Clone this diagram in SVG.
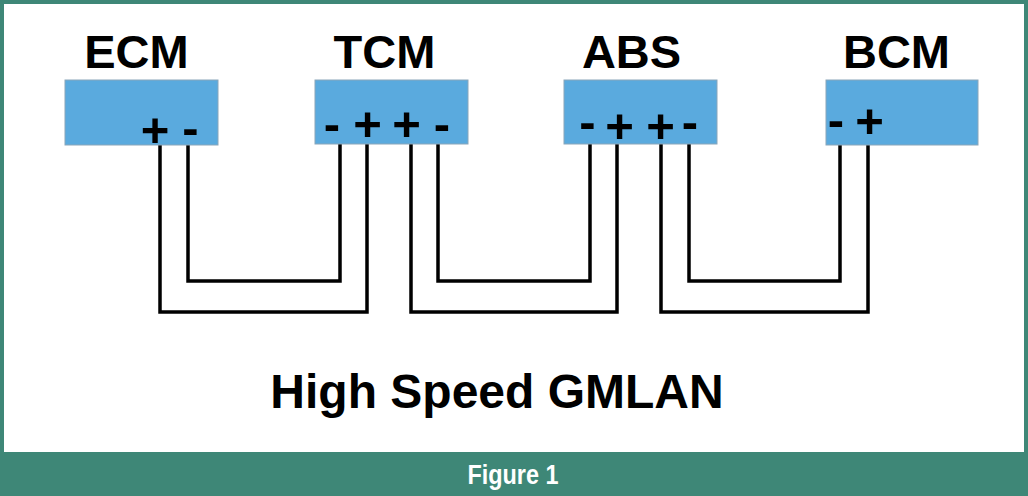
<svg xmlns="http://www.w3.org/2000/svg" width="1028" height="496" viewBox="0 0 1028 496">
<style>
.lbl{font-family:"Liberation Sans",Arial,sans-serif;font-weight:bold;font-size:47px;fill:#000;text-anchor:middle}
.sgn{font-family:"Liberation Sans",Arial,sans-serif;font-weight:bold;font-size:49px;fill:#000;text-anchor:middle}
.box{fill:#5aaade;stroke:#8aa6ba;stroke-width:1}
.wire{fill:none;stroke:#000;stroke-width:3.5;stroke-linejoin:miter}
.title{font-family:"Liberation Sans",Arial,sans-serif;font-weight:bold;font-size:48px;fill:#000;text-anchor:middle}
.fig{font-family:"Liberation Sans",Arial,sans-serif;font-weight:bold;font-size:28px;fill:#fff;text-anchor:middle}
</style>
<rect x="0" y="0" width="1028" height="496" fill="#3e8777"/>
<rect x="4" y="4" width="1020" height="448" fill="#fff"/>
<g id="connectors">
<path class="wire" d="M188 145 V281 H340 V144"/>
<path class="wire" d="M160 145 V312 H367 V144"/>
<path class="wire" d="M438 144 V281 H590 V144"/>
<path class="wire" d="M411 144 V312 H617 V144"/>
<path class="wire" d="M689 144 V281 H840 V145"/>
<path class="wire" d="M661 144 V312 H868 V145"/>
</g>
<g id="ecm">
<rect class="box" x="65" y="80" width="153" height="65"/>
<text class="lbl" x="136.5" y="68">ECM</text>
<text class="sgn" x="155" y="147">+</text>
<text class="sgn" x="190.5" y="145">-</text>
</g>
<g id="tcm">
<rect class="box" x="315" y="80" width="153" height="64"/>
<text class="lbl" x="384.5" y="68">TCM</text>
<text class="sgn" x="332" y="141">-</text>
<text class="sgn" x="367.5" y="141">+</text>
<text class="sgn" x="406.5" y="141">+</text>
<text class="sgn" x="442" y="141">-</text>
</g>
<g id="abs">
<rect class="box" x="564" y="80" width="153" height="64"/>
<text class="lbl" x="631.5" y="68">ABS</text>
<text class="sgn" x="587.5" y="139">-</text>
<text class="sgn" x="619.5" y="143">+</text>
<text class="sgn" x="660.5" y="143">+</text>
<text class="sgn" x="690" y="139">-</text>
</g>
<g id="bcm">
<rect class="box" x="826" y="80" width="152" height="65"/>
<text class="lbl" x="896.5" y="68">BCM</text>
<text class="sgn" x="836" y="137">-</text>
<text class="sgn" x="869.5" y="138">+</text>
</g>
<text class="title" x="497" y="408">High Speed GMLAN</text>
<text class="fig" x="513" y="484" textLength="91" lengthAdjust="spacingAndGlyphs">Figure 1</text>
</svg>
